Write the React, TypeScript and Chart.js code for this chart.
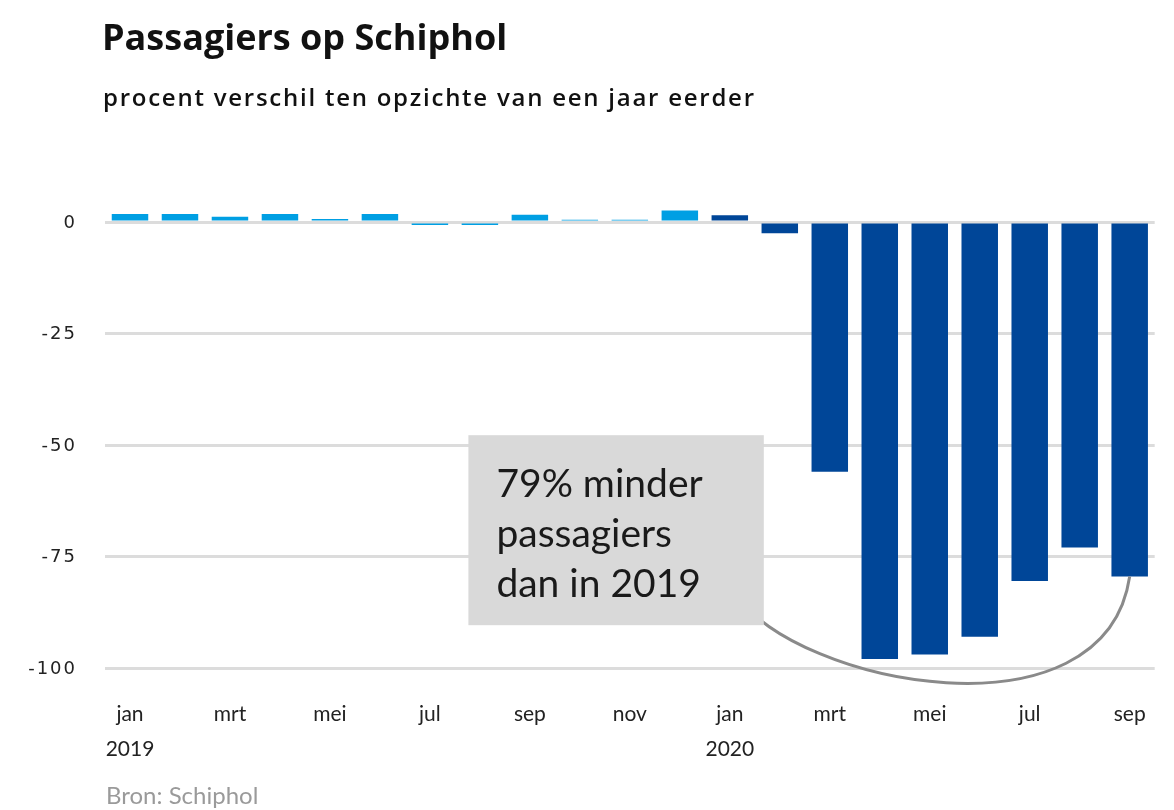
import React, { useEffect, useRef } from "react";
import { Chart, registerables } from "chart.js";

Chart.register(...registerables);

const months2019 = ["jan", "feb", "mrt", "apr", "mei", "jun", "jul", "aug", "sep", "okt", "nov", "dec"];
const months2020 = ["jan", "feb", "mrt", "apr", "mei", "jun", "jul", "aug", "sep"];
const values2019 = [1.8, 1.8, 1.2, 1.8, 0.7, 1.8, -0.7, -0.7, 1.6, 0.5, 0.5, 2.6];
const values2020 = [1.5, -2.5, -56, -98, -97, -93, -80.5, -73, -79.5];
const yTicks = [0, -25, -50, -75, -100];
const color2019 = "#009FE3";
const color2020 = "#004698";

const title = "Passagiers op Schiphol";
const subtitle = "procent verschil ten opzichte van een jaar eerder";
const source = "Bron: Schiphol";
const noteLines = ["79% minder", "passagiers", "dan in 2019"];
// annotation box anchors in (category index, value) units
const noteBox = { x0: 6.77, x1: 12.68, y0: -47.8, y1: -90.4 };
// connector curve (cubic) in (category index, value) units; ends at last bar
const curveStart = { x: 12.14, y: -83.6 };
const curveCtrl1 = { x: 13.33, y: -103.8 };
const curveCtrl2 = { x: 19.5, y: -117.3 };

export default function App() {
  const ref = useRef<HTMLCanvasElement | null>(null);
  useEffect(() => {
    const labels = [...months2019, ...months2020];
    const data = [...values2019, ...values2020];
    const colors = [...values2019.map(() => color2019), ...values2020.map(() => color2020)];

    const overlay = {
      id: "overlay",
      afterDatasetsDraw(chart: any) {
        const ctx = chart.ctx;
        const xs = chart.scales.x;
        const ys = chart.scales.y;
        const px = (p: { x: number; y: number }) => [xs.getPixelForValue(p.x), ys.getPixelForValue(p.y)];
        const bx0 = xs.getPixelForValue(noteBox.x0);
        const bx1 = xs.getPixelForValue(noteBox.x1);
        const by0 = ys.getPixelForValue(noteBox.y0);
        const by1 = ys.getPixelForValue(noteBox.y1);
        ctx.save();
        // connector curve
        const lastIdx = data.length - 1;
        const [sx, sy] = px(curveStart);
        const [c1x, c1y] = px(curveCtrl1);
        const [c2x, c2y] = px(curveCtrl2);
        const [ex, ey] = px({ x: lastIdx, y: data[lastIdx] });
        ctx.beginPath();
        ctx.moveTo(sx, sy);
        ctx.bezierCurveTo(c1x, c1y, c2x, c2y, ex, ey);
        ctx.strokeStyle = "#8a8a8a";
        ctx.lineWidth = 3;
        ctx.stroke();
        // box
        ctx.fillStyle = "#d9d9d9";
        ctx.fillRect(bx0, by0, bx1 - bx0, by1 - by0);
        ctx.fillStyle = "#1a1a1a";
        ctx.font = "39px Lato";
        ctx.textBaseline = "alphabetic";
        noteLines.forEach((l, i) => ctx.fillText(l, bx0 + 28, by0 + 62 + i * 50));
        // y tick labels
        ctx.fillStyle = "#222";
        ctx.font = "18px 'DejaVu Sans'";
        ctx.textAlign = "right";
        ctx.textBaseline = "middle";
        (ctx as any).letterSpacing = "2px";
        yTicks.forEach((v) => ctx.fillText(String(v), 77, ys.getPixelForValue(v) + 1));
        ctx.restore();
      },
      afterDraw(chart: any) {
        const ctx = chart.ctx;
        ctx.save();
        ctx.textBaseline = "alphabetic";
        ctx.textAlign = "left";
        ctx.fillStyle = "#111";
        ctx.font = "bold 36px 'Open Sans'";
        ctx.fillText(title, 102, 50);
        ctx.font = "600 24px 'Open Sans'";
        (ctx as any).letterSpacing = "1.75px";
        ctx.fillText(subtitle, 103, 106);
        (ctx as any).letterSpacing = "0px";
        ctx.fillStyle = "#9a9a9a";
        ctx.font = "24px Lato";
        ctx.fillText(source, 106, 804);
        ctx.restore();
      },
    };

    const chart = new Chart(ref.current as HTMLCanvasElement, {
      type: "bar",
      data: {
        labels,
        datasets: [
          {
            data,
            backgroundColor: colors,
            barPercentage: 0.73,
            categoryPercentage: 1,
            clip: false as any,
          },
        ],
      },
      options: {
        animation: false,
        responsive: false,
        layout: { padding: { top: 222, left: 0, right: 14, bottom: 0 } },
        plugins: { legend: { display: false }, tooltip: { enabled: false }, title: { display: false } },
        scales: {
          x: {
            afterFit: (s: any) => { s.height = 142; },
            grid: { display: false, drawTicks: false },
            border: { display: false },
            ticks: {
              autoSkip: false,
              maxRotation: 0,
              padding: 28,
              color: "#222",
              font: { family: "Lato", size: 21, lineHeight: 1.7 },
              callback: (_v: any, i: number) => {
                if (i % 2 !== 0) return "";
                if (i === 0) return [labels[i], "2019"];
                if (i === 12) return [labels[i], "2020"];
                return labels[i];
              },
            },
          },
          y: {
            min: -100,
            max: 0,
            afterFit: (s: any) => { s.width = 105; },
            afterBuildTicks: (s: any) => { s.ticks = yTicks.map((v) => ({ value: v })); },
            grid: { color: "#dcdcdc", lineWidth: 3, drawTicks: false },
            border: { display: false },
            ticks: { display: false },
          },
        },
      },
      plugins: [overlay],
    });
    return () => chart.destroy();
  }, []);

  return (
    <div style={{ position: "fixed", left: 0, top: 0, width: 1174, height: 810, background: "#fff" }}>
      <canvas ref={ref} width={1174} height={810} style={{ width: 1174, height: 810 }} />
    </div>
  );
}
